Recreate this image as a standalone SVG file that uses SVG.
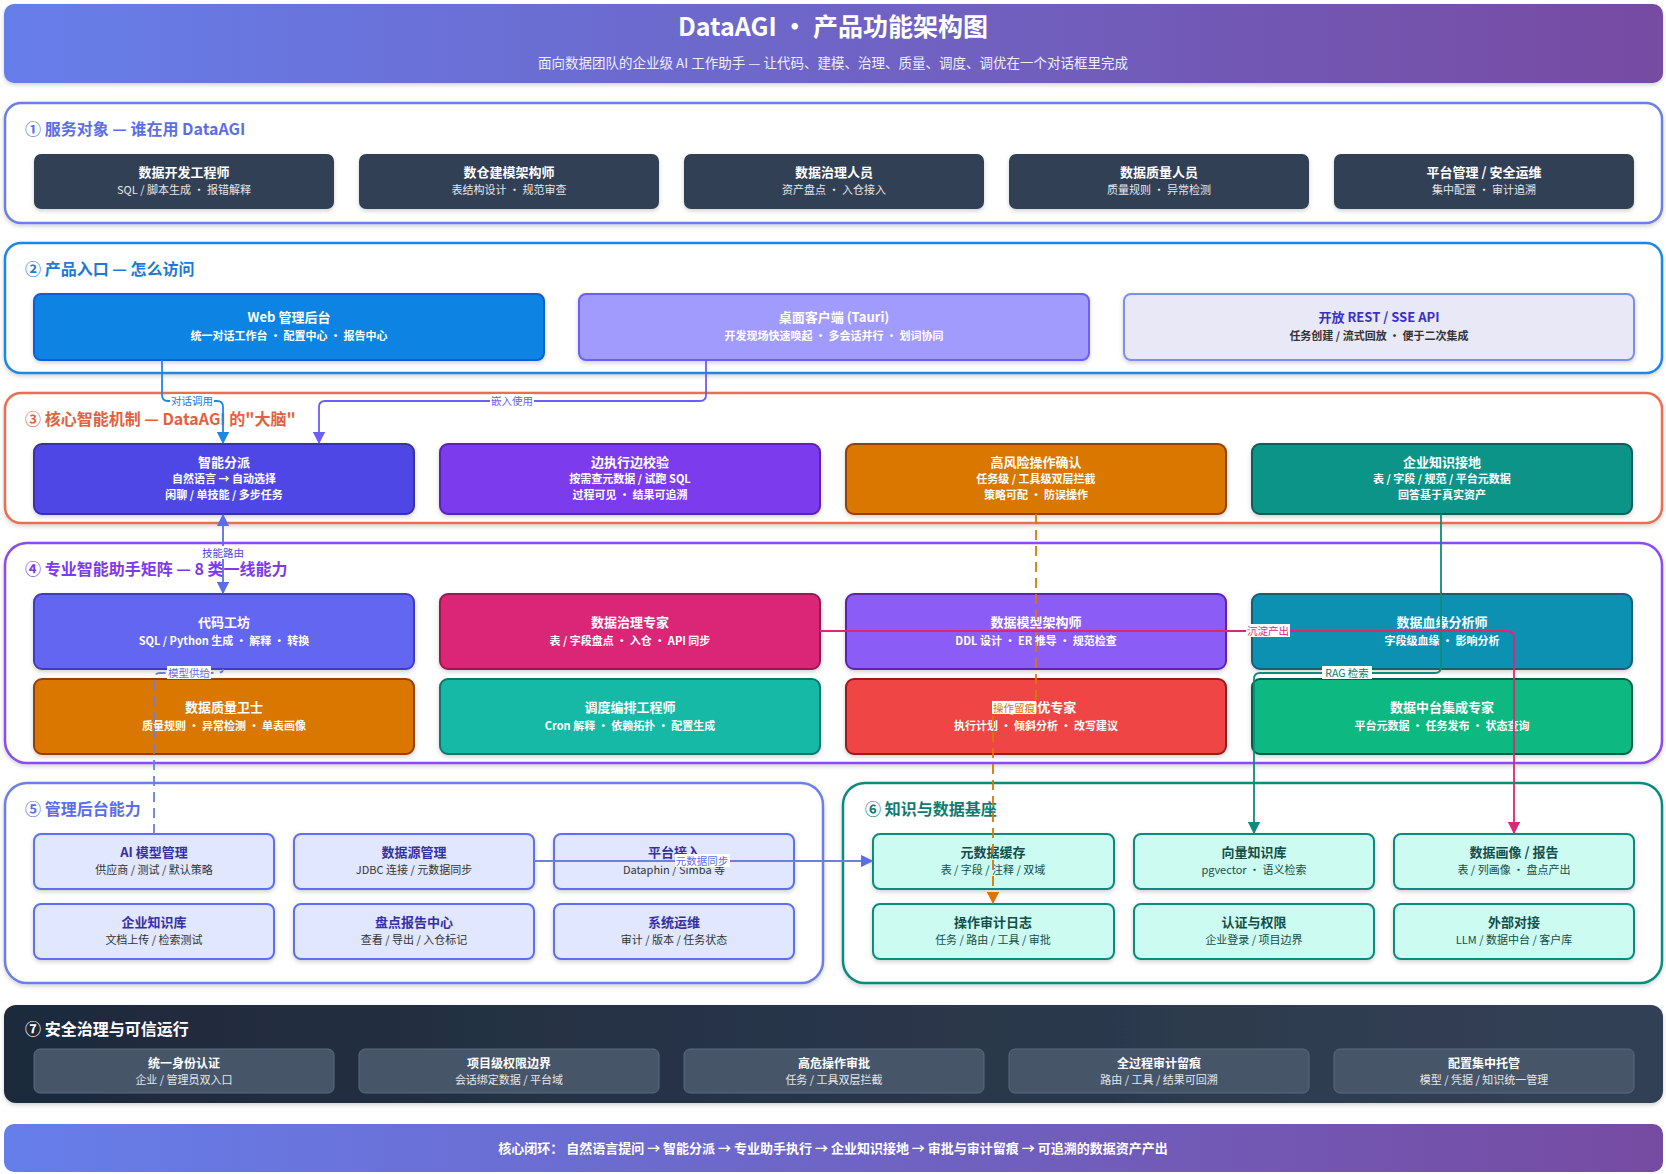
<svg xmlns="http://www.w3.org/2000/svg" width="1666" height="1174" viewBox="0 0 1666 1174">
<style>
text{font-family:"Noto Sans CJK SC","Noto Sans",sans-serif;text-anchor:middle}
.t{font-size:13px;font-weight:700;fill:#fff}
.s{font-size:11px;font-weight:700;fill:#fff}
.s1{font-size:11px;fill:#e5e7eb}
.lab{font-size:16px;font-weight:700;text-anchor:start}
.sec{fill:#fff;stroke-width:2.5}
.cl{font-size:10.5px}
.c{fill:none;stroke-width:1.8}
</style>
<defs>
<linearGradient id="hg" x1="0" x2="1"><stop offset="0" stop-color="#667eea"/><stop offset="1" stop-color="#764ba2"/></linearGradient>
<linearGradient id="dg" x1="0" x2="1"><stop offset="0" stop-color="#1e293b"/><stop offset="1" stop-color="#334155"/></linearGradient>
<filter id="sh" x="-5%" y="-10%" width="110%" height="130%"><feDropShadow dx="0" dy="2" stdDeviation="2" flood-opacity="0.18"/></filter>
<marker id="ab" viewBox="0 0 10 10" refX="9" refY="5" markerWidth="7" markerHeight="7" orient="auto-start-reverse"><path d="M0,0L10,5L0,10z" fill="#1e88e5"/></marker>
<marker id="ap" viewBox="0 0 10 10" refX="9" refY="5" markerWidth="7" markerHeight="7" orient="auto-start-reverse"><path d="M0,0L10,5L0,10z" fill="#6d5dfc"/></marker>
<marker id="ai" viewBox="0 0 10 10" refX="9" refY="5" markerWidth="7" markerHeight="7" orient="auto-start-reverse"><path d="M0,0L10,5L0,10z" fill="#5b6ee8"/></marker>
<marker id="ao" viewBox="0 0 10 10" refX="9" refY="5" markerWidth="7" markerHeight="7" orient="auto-start-reverse"><path d="M0,0L10,5L0,10z" fill="#d97706"/></marker>
<marker id="at" viewBox="0 0 10 10" refX="9" refY="5" markerWidth="7" markerHeight="7" orient="auto-start-reverse"><path d="M0,0L10,5L0,10z" fill="#0f8a7e"/></marker>
<marker id="ak" viewBox="0 0 10 10" refX="9" refY="5" markerWidth="7" markerHeight="7" orient="auto-start-reverse"><path d="M0,0L10,5L0,10z" fill="#db2777"/></marker>
</defs>
<rect width="1666" height="1174" fill="#fff"/>
<g id="header">
<rect x="4" y="4" width="1659" height="79" rx="10" fill="url(#hg)" filter="url(#sh)"/>
<text x="833" y="36" style="font-size:25px;font-weight:700;fill:#fff">DataAGI · 产品功能架构图</text>
<text x="833" y="68" style="font-size:13.5px;fill:#eef">面向数据团队的企业级 AI 工作助手 — 让代码、建模、治理、质量、调度、调优在一个对话框里完成</text>
</g>
<!-- sections -->
<g id="sec1"><rect class="sec" x="5" y="103" width="1657" height="120" rx="16" stroke="#6b7fe8" filter="url(#sh)"/><text class="lab" x="25" y="135" fill="#5b6ee8">① 服务对象 — 谁在用 DataAGI</text></g>
<g id="sec2"><rect class="sec" x="5" y="243" width="1657" height="130" rx="16" stroke="#1e88e5" filter="url(#sh)"/><text class="lab" x="25" y="275" fill="#1e78d5">② 产品入口 — 怎么访问</text></g>
<g id="sec3"><rect class="sec" x="5" y="393" width="1657" height="130" rx="16" stroke="#e76f51" filter="url(#sh)"/><text class="lab" x="25" y="425" fill="#e4603f">③ 核心智能机制 — DataAGI 的"大脑"</text></g>
<g id="sec4"><rect class="sec" x="5" y="543" width="1657" height="220" rx="22" stroke="#8b4cf0" filter="url(#sh)"/><text class="lab" x="25" y="575" fill="#7c3aed">④ 专业智能助手矩阵 — 8 类一线能力</text></g>
<g id="sec5"><rect class="sec" x="5" y="783" width="818" height="200" rx="22" stroke="#6b7fe8" filter="url(#sh)"/><text class="lab" x="25" y="815" fill="#5b6ee8">⑤ 管理后台能力</text></g>
<g id="sec6"><rect class="sec" x="843" y="783" width="819" height="200" rx="22" stroke="#0f8a7e" filter="url(#sh)"/><text class="lab" x="865" y="815" fill="#0f7a70">⑥ 知识与数据基座</text></g>
<g id="sec7"><rect x="4" y="1005" width="1659" height="98" rx="12" fill="url(#dg)" filter="url(#sh)"/><text class="lab" x="25" y="1035" fill="#fff">⑦ 安全治理与可信运行</text></g>

<!-- section 1 nodes -->
<g id="n1a"><rect x="34" y="154" width="300" height="55" rx="7" fill="#334155" filter="url(#sh)"/><text class="t" x="184" y="177">数据开发工程师</text><text class="s1" x="184" y="194">SQL / 脚本生成 · 报错解释</text></g>
<g id="n1b"><rect x="359" y="154" width="300" height="55" rx="7" fill="#334155" filter="url(#sh)"/><text class="t" x="509" y="177">数仓建模架构师</text><text class="s1" x="509" y="194">表结构设计 · 规范审查</text></g>
<g id="n1c"><rect x="684" y="154" width="300" height="55" rx="7" fill="#334155" filter="url(#sh)"/><text class="t" x="834" y="177">数据治理人员</text><text class="s1" x="834" y="194">资产盘点 · 入仓接入</text></g>
<g id="n1d"><rect x="1009" y="154" width="300" height="55" rx="7" fill="#334155" filter="url(#sh)"/><text class="t" x="1159" y="177">数据质量人员</text><text class="s1" x="1159" y="194">质量规则 · 异常检测</text></g>
<g id="n1e"><rect x="1334" y="154" width="300" height="55" rx="7" fill="#334155" filter="url(#sh)"/><text class="t" x="1484" y="177">平台管理 / 安全运维</text><text class="s1" x="1484" y="194">集中配置 · 审计追溯</text></g>

<!-- section 2 -->
<g id="web"><rect x="34" y="294" width="510" height="66" rx="7" fill="#0b84e3" stroke="#0a5bd8" stroke-width="2" filter="url(#sh)"/><text class="t" x="289" y="322">Web 管理后台</text><text class="s" x="289" y="340">统一对话工作台 · 配置中心 · 报告中心</text></g>
<g id="desk"><rect x="579" y="294" width="510" height="66" rx="7" fill="#a29bfe" stroke="#6d5dfc" stroke-width="2" filter="url(#sh)"/><text class="t" x="834" y="322">桌面客户端 (Tauri)</text><text class="s" x="834" y="340">开发现场快速唤起 · 多会话并行 · 划词协同</text></g>
<g id="api"><rect x="1124" y="294" width="510" height="66" rx="7" fill="#e8e8f6" stroke="#7b8ff0" stroke-width="2" filter="url(#sh)"/><text class="t" x="1379" y="322" style="fill:#3b2fc9">开放 REST / SSE API</text><text class="s" x="1379" y="340" style="fill:#333">任务创建 / 流式回放 · 便于二次集成</text></g>

<!-- section 3 -->
<g id="dispatch"><rect x="34" y="444" width="380" height="70" rx="8" fill="#4f46e5" stroke="#3730a3" stroke-width="2" filter="url(#sh)"/><text class="t" x="224" y="467">智能分派</text><text class="s" x="224" y="483">自然语言 → 自动选择</text><text class="s" x="224" y="499">闲聊 / 单技能 / 多步任务</text></g>
<g id="verify"><rect x="440" y="444" width="380" height="70" rx="8" fill="#7c3aed" stroke="#5b21b6" stroke-width="2" filter="url(#sh)"/><text class="t" x="630" y="467">边执行边校验</text><text class="s" x="630" y="483">按需查元数据 / 试跑 SQL</text><text class="s" x="630" y="499">过程可见 · 结果可追溯</text></g>
<g id="risk"><rect x="846" y="444" width="380" height="70" rx="8" fill="#d97706" stroke="#92400e" stroke-width="2" filter="url(#sh)"/><text class="t" x="1036" y="467">高风险操作确认</text><text class="s" x="1036" y="483">任务级 / 工具级双层拦截</text><text class="s" x="1036" y="499">策略可配 · 防误操作</text></g>
<g id="ground"><rect x="1252" y="444" width="380" height="70" rx="8" fill="#0f9488" stroke="#115e59" stroke-width="2" filter="url(#sh)"/><text class="t" x="1442" y="467">企业知识接地</text><text class="s" x="1442" y="483">表 / 字段 / 规范 / 平台元数据</text><text class="s" x="1442" y="499">回答基于真实资产</text></g>

<!-- section 4 -->
<g id="code"><rect x="34" y="594" width="380" height="75" rx="8" fill="#6366f1" stroke="#4338ca" stroke-width="2" filter="url(#sh)"/><text class="t" x="224" y="627">代码工坊</text><text class="s" x="224" y="645">SQL / Python 生成 · 解释 · 转换</text></g>
<g id="gov"><rect x="440" y="594" width="380" height="75" rx="8" fill="#db2777" stroke="#9d174d" stroke-width="2" filter="url(#sh)"/><text class="t" x="630" y="627">数据治理专家</text><text class="s" x="630" y="645">表 / 字段盘点 · 入仓 · API 同步</text></g>
<g id="model"><rect x="846" y="594" width="380" height="75" rx="8" fill="#8b5cf6" stroke="#5b21b6" stroke-width="2" filter="url(#sh)"/><text class="t" x="1036" y="627">数据模型架构师</text><text class="s" x="1036" y="645">DDL 设计 · ER 推导 · 规范检查</text></g>
<g id="lineage"><rect x="1252" y="594" width="380" height="75" rx="8" fill="#0891b2" stroke="#155e75" stroke-width="2" filter="url(#sh)"/><text class="t" x="1442" y="627">数据血缘分析师</text><text class="s" x="1442" y="645">字段级血缘 · 影响分析</text></g>
<g id="quality"><rect x="34" y="679" width="380" height="75" rx="8" fill="#d97706" stroke="#92400e" stroke-width="2" filter="url(#sh)"/><text class="t" x="224" y="712">数据质量卫士</text><text class="s" x="224" y="730">质量规则 · 异常检测 · 单表画像</text></g>
<g id="sched"><rect x="440" y="679" width="380" height="75" rx="8" fill="#14b8a6" stroke="#0f766e" stroke-width="2" filter="url(#sh)"/><text class="t" x="630" y="712">调度编排工程师</text><text class="s" x="630" y="730">Cron 解释 · 依赖拓扑 · 配置生成</text></g>
<g id="tune"><rect x="846" y="679" width="380" height="75" rx="8" fill="#ef4444" stroke="#991b1b" stroke-width="2" filter="url(#sh)"/><text class="t" x="1036" y="712">SQL 调优专家</text><text class="s" x="1036" y="730">执行计划 · 倾斜分析 · 改写建议</text></g>
<g id="platform"><rect x="1252" y="679" width="380" height="75" rx="8" fill="#10b981" stroke="#065f46" stroke-width="2" filter="url(#sh)"/><text class="t" x="1442" y="712">数据中台集成专家</text><text class="s" x="1442" y="730">平台元数据 · 任务发布 · 状态查询</text></g>

<!-- section 5 -->
<g style="font-size:12px">
<g id="m1"><rect x="34" y="834" width="240" height="55" rx="7" fill="#e0e7ff" stroke="#5b6ff0" stroke-width="2" filter="url(#sh)"/><text class="t" x="154" y="857" style="fill:#3730a3">AI 模型管理</text><text class="s" x="154" y="874" style="fill:#333;font-weight:400">供应商 / 测试 / 默认策略</text></g>
<g id="m2"><rect x="294" y="834" width="240" height="55" rx="7" fill="#e0e7ff" stroke="#5b6ff0" stroke-width="2" filter="url(#sh)"/><text class="t" x="414" y="857" style="fill:#3730a3">数据源管理</text><text class="s" x="414" y="874" style="fill:#333;font-weight:400">JDBC 连接 / 元数据同步</text></g>
<g id="m3"><rect x="554" y="834" width="240" height="55" rx="7" fill="#e0e7ff" stroke="#5b6ff0" stroke-width="2" filter="url(#sh)"/><text class="t" x="674" y="857" style="fill:#3730a3">平台接入</text><text class="s" x="674" y="874" style="fill:#333;font-weight:400">Dataphin / Simba 等</text></g>
<g id="m4"><rect x="34" y="904" width="240" height="55" rx="7" fill="#e0e7ff" stroke="#5b6ff0" stroke-width="2" filter="url(#sh)"/><text class="t" x="154" y="927" style="fill:#3730a3">企业知识库</text><text class="s" x="154" y="944" style="fill:#333;font-weight:400">文档上传 / 检索测试</text></g>
<g id="m5"><rect x="294" y="904" width="240" height="55" rx="7" fill="#e0e7ff" stroke="#5b6ff0" stroke-width="2" filter="url(#sh)"/><text class="t" x="414" y="927" style="fill:#3730a3">盘点报告中心</text><text class="s" x="414" y="944" style="fill:#333;font-weight:400">查看 / 导出 / 入仓标记</text></g>
<g id="m6"><rect x="554" y="904" width="240" height="55" rx="7" fill="#e0e7ff" stroke="#5b6ff0" stroke-width="2" filter="url(#sh)"/><text class="t" x="674" y="927" style="fill:#3730a3">系统运维</text><text class="s" x="674" y="944" style="fill:#333;font-weight:400">审计 / 版本 / 任务状态</text></g>
</g>

<!-- section 6 -->
<g id="k1"><rect x="873" y="834" width="241" height="55" rx="7" fill="#ccfbf1" stroke="#0f8a7e" stroke-width="2" filter="url(#sh)"/><text class="t" x="993" y="857" style="fill:#134e4a">元数据缓存</text><text class="s" x="993" y="874" style="fill:#134e4a;font-weight:400">表 / 字段 / 注释 / 双域</text></g>
<g id="k2"><rect x="1134" y="834" width="240" height="55" rx="7" fill="#ccfbf1" stroke="#0f8a7e" stroke-width="2" filter="url(#sh)"/><text class="t" x="1254" y="857" style="fill:#134e4a">向量知识库</text><text class="s" x="1254" y="874" style="fill:#134e4a;font-weight:400">pgvector · 语义检索</text></g>
<g id="k3"><rect x="1394" y="834" width="240" height="55" rx="7" fill="#ccfbf1" stroke="#0f8a7e" stroke-width="2" filter="url(#sh)"/><text class="t" x="1514" y="857" style="fill:#134e4a">数据画像 / 报告</text><text class="s" x="1514" y="874" style="fill:#134e4a;font-weight:400">表 / 列画像 · 盘点产出</text></g>
<g id="k4"><rect x="873" y="904" width="241" height="55" rx="7" fill="#ccfbf1" stroke="#0f8a7e" stroke-width="2" filter="url(#sh)"/><text class="t" x="993" y="927" style="fill:#134e4a">操作审计日志</text><text class="s" x="993" y="944" style="fill:#134e4a;font-weight:400">任务 / 路由 / 工具 / 审批</text></g>
<g id="k5"><rect x="1134" y="904" width="240" height="55" rx="7" fill="#ccfbf1" stroke="#0f8a7e" stroke-width="2" filter="url(#sh)"/><text class="t" x="1254" y="927" style="fill:#134e4a">认证与权限</text><text class="s" x="1254" y="944" style="fill:#134e4a;font-weight:400">企业登录 / 项目边界</text></g>
<g id="k6"><rect x="1394" y="904" width="240" height="55" rx="7" fill="#ccfbf1" stroke="#0f8a7e" stroke-width="2" filter="url(#sh)"/><text class="t" x="1514" y="927" style="fill:#134e4a">外部对接</text><text class="s" x="1514" y="944" style="fill:#134e4a;font-weight:400">LLM / 数据中台 / 客户库</text></g>

<!-- section 7 -->
<g id="s7a"><rect x="34" y="1049" width="300" height="44" rx="6" fill="#475569" stroke="#5b6b80"/><text class="t" x="184" y="1068" style="font-size:12px">统一身份认证</text><text class="s1" x="184" y="1084">企业 / 管理员双入口</text></g>
<g id="s7b"><rect x="359" y="1049" width="300" height="44" rx="6" fill="#475569" stroke="#5b6b80"/><text class="t" x="509" y="1068" style="font-size:12px">项目级权限边界</text><text class="s1" x="509" y="1084">会话绑定数据 / 平台域</text></g>
<g id="s7c"><rect x="684" y="1049" width="300" height="44" rx="6" fill="#475569" stroke="#5b6b80"/><text class="t" x="834" y="1068" style="font-size:12px">高危操作审批</text><text class="s1" x="834" y="1084">任务 / 工具双层拦截</text></g>
<g id="s7d"><rect x="1009" y="1049" width="300" height="44" rx="6" fill="#475569" stroke="#5b6b80"/><text class="t" x="1159" y="1068" style="font-size:12px">全过程审计留痕</text><text class="s1" x="1159" y="1084">路由 / 工具 / 结果可回溯</text></g>
<g id="s7e"><rect x="1334" y="1049" width="300" height="44" rx="6" fill="#475569" stroke="#5b6b80"/><text class="t" x="1484" y="1068" style="font-size:12px">配置集中托管</text><text class="s1" x="1484" y="1084">模型 / 凭据 / 知识统一管理</text></g>

<g id="footer"><rect x="4" y="1124" width="1659" height="48" rx="10" fill="url(#hg)"/><text class="t" x="833" y="1153">核心闭环： 自然语言提问 → 智能分派 → 专业助手执行 → 企业知识接地 → 审批与审计留痕 → 可追溯的数据资产产出</text></g>

<!-- connectors -->
<g id="connectors">
<path class="c" d="M162,360 V395 Q162,401 168,401 H217 Q223,401 223,407 V443" stroke="#1e88e5" marker-end="url(#ab)"/>
<path class="c" d="M706,360 V395 Q706,401 700,401 H325 Q319,401 319,407 V443" stroke="#6d5dfc" marker-end="url(#ap)"/>
<path class="c" d="M223,515 V593" stroke="#5b6ee8" marker-start="url(#ai)" marker-end="url(#ai)"/>
<path class="c" d="M154,834 V679 Q154,673 160,673 H217 Q223,673 223,669" stroke="#6b7fe0" stroke-dasharray="10,6"/>
<path class="c" d="M1036,514 V702 Q1036,708 1030,708 H999 Q993,708 993,714 V903" stroke="#d97706" stroke-dasharray="10,6" marker-end="url(#ao)"/>
<path class="c" d="M1441,514 V667 Q1441,673 1435,673 H1260 Q1254,673 1254,679 V833" stroke="#0f8a7e" marker-end="url(#at)"/>
<path class="c" d="M820,631 H1507 Q1514,631 1514,638 V833" stroke="#db2777" marker-end="url(#ak)"/>
<path class="c" d="M534,861 H872" stroke="#6b7fe0" marker-end="url(#ai)"/>
<g class="cl">
<rect x="170" y="394" width="44" height="13" fill="#fff"/><text x="192" y="404.5" fill="#1e78d5">对话调用</text>
<rect x="490" y="394" width="44" height="13" fill="#fff"/><text x="512" y="404.5" fill="#6d5dfc">嵌入使用</text>
<rect x="201" y="546" width="44" height="13" fill="#fff"/><text x="223" y="556.5" fill="#4f46e5">技能路由</text>
<rect x="167" y="666" width="44" height="13" fill="#fff"/><text x="189" y="676.5" fill="#5b6ee8">模型供给</text>
<rect x="992" y="701" width="44" height="13" fill="#fff"/><text x="1014" y="711.5" fill="#d97706">操作留痕</text>
<rect x="1322" y="666" width="50" height="13" fill="#fff"/><text x="1347" y="676.5" fill="#0f7a70">RAG 检索</text>
<rect x="1246" y="624" width="44" height="13" fill="#fff"/><text x="1268" y="634.5" fill="#db2777">沉淀产出</text>
<rect x="675" y="854" width="55" height="13" fill="#fff"/><text x="702" y="864.5" fill="#5b6ee8">元数据同步</text>
</g>
</g>
</svg>
